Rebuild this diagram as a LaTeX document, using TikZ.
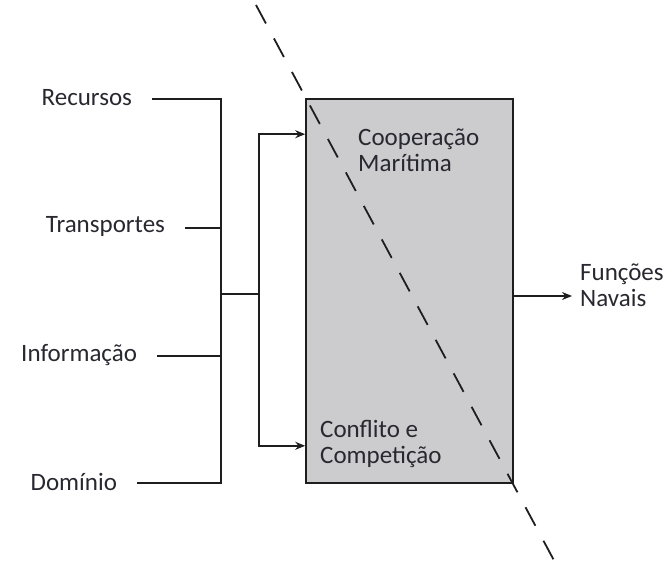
\documentclass[tikz,border=0pt]{standalone}
\usepackage{fontspec}
\setmainfont{Carlito}
\usetikzlibrary{arrows.meta,positioning}
\definecolor{boxgray}{RGB}{204,204,206}
\definecolor{txtgray}{RGB}{40,40,48}
\definecolor{linegray}{RGB}{30,30,30}
\tikzset{
  lbl/.style={font=\fontsize{25}{26}\selectfont, text=txtgray, inner sep=2pt},
  inlbl/.style={lbl, anchor=east, outer xsep=18pt},
  wire/.style={draw=linegray, line width=1.4pt},
  arr/.style={wire, -{Stealth[length=10pt,width=8pt]}},
  block/.style={draw=linegray, line width=1.6pt, fill=boxgray,
                minimum width=207pt, minimum height=384pt}
}
\begin{document}
\begin{tikzpicture}[x=1pt,y=-1pt]
\useasboundingbox (0,0) rectangle (672,572);
% the big block
\node (box) [block] at (409.5,291) {};
\node (coop) [lbl, align=left, anchor=west] at (356,150) {Cooperação\\Marítima};
\node (conf) [lbl, align=left, anchor=west] at (318,444) {Conflito e\\Competição};
% inputs
\node (rec) [inlbl] at (152,98) {Recursos};
\node (tra) [inlbl] at (185,226) {Transportes};
\node (inf) [inlbl] at (157,355) {Informação};
\node (dom) [inlbl] at (137,482) {Domínio};
\coordinate (busT) at (221,99);
\coordinate (busB) at (221,483);
\coordinate (mid) at (221,294);
\coordinate (fork) at (259,294);
\draw[wire] (rec.east |- busT) -- (busT) -- (busB) -- (dom.east |- busB);
\draw[wire] (tra.east |- 0,228) -- (busT |- 0,228);
\draw[wire] (inf.east |- 0,356) -- (busT |- 0,356);
\draw[wire] (mid) -- (fork);
\draw[arr] (fork) |- ([yshift=-36pt]box.north west);
\draw[arr] (fork) |- ([yshift=38pt]box.south west);
% output
\node (fun) [lbl, align=left, anchor=west] at (578,285) {Funções\\Navais};
\coordinate (outS) at (box.east |- 0,296);
\draw[arr, shorten >=6pt] (outS) -- (outS -| fun.west);
% dashed divide
\coordinate (dTop) at (256,5);
\coordinate (dBot) at (557,566);
\draw[draw=linegray, line width=1.8pt, dash pattern=on 21pt off 17pt] (dTop) -- (dBot);
\end{tikzpicture}
\end{document}
